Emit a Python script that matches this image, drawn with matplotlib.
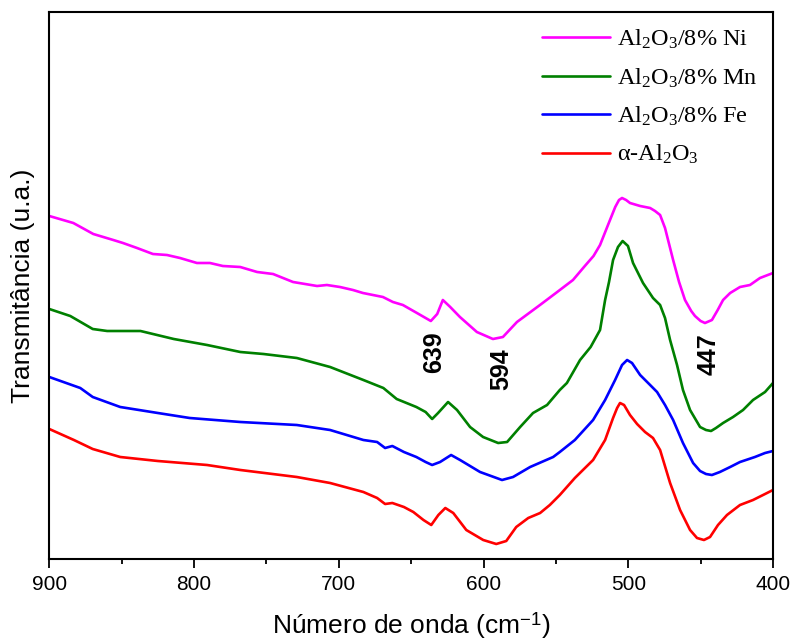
import matplotlib
matplotlib.use("Agg")
import matplotlib.pyplot as plt
from matplotlib.ticker import MultipleLocator

plt.rcParams["font.family"] = ["Liberation Sans", "DejaVu Sans"]
plt.rcParams["mathtext.fontset"] = "custom"
plt.rcParams["mathtext.rm"] = "Liberation Serif"
plt.rcParams["mathtext.it"] = "Liberation Serif:italic"
plt.rcParams["mathtext.sf"] = "Liberation Sans"

# wavenumber (cm-1) and transmittance (arbitrary units, curves offset)
ni_x = [900, 883.4, 869.6, 855.8, 849.1, 839.4, 828.4, 818.7, 809.7, 798, 789,
        780.1, 768.1, 756.4, 745.4, 731.6, 715, 708.2, 699.2, 690.2, 683.3,
        669.5, 662.6, 655.7, 646, 640, 636.4, 632, 628.1, 623, 616.3, 604.6,
        593.5, 586.6, 576.9, 561, 550, 538.2, 530, 524, 519.5, 514, 509, 506.4,
        504.3, 501.5, 498.8, 491.8, 484.9, 481.5, 478, 474.6, 469, 464.9, 460.8,
        456.5, 453.9, 450, 447, 442.2, 438.2, 434.5, 429.6, 422.8, 415.9, 409,
        400]
ni_y = [343, 336, 325, 319, 316, 311, 305, 304, 301, 296, 296,
        293, 292, 287, 285, 277, 273, 274, 272, 269, 266,
        262, 257, 254, 246, 241, 238, 245, 259, 252, 242, 227,
        220, 222, 237, 254, 266, 279, 293, 303, 314, 334, 352, 359,
        361, 359, 356, 353, 351, 348, 344, 331, 299, 277, 259,
        248, 243, 238, 236, 239, 249, 259, 266, 272, 274, 281,
        286]

mn_x = [900, 885.5, 870, 860, 837, 814, 791, 768, 752, 729, 706, 683, 669.2,
        660, 646.4, 640, 635.5, 631.4, 624.5, 618.3, 609.3, 600.3, 589.9,
        583.7, 574.7, 565.8, 556.1, 547.3, 542.4, 533.3, 526, 519.5, 516,
        513.3, 510.5, 507.1, 503.9, 500.2, 496.7, 489.8, 482.9, 478, 474.6,
        471.1, 466.3, 462.2, 457.3, 450.4, 446.3, 442.8, 439.4, 434.5, 427.6,
        420.7, 413.8, 405.5, 400]
mn_y = [250, 243, 230, 228, 228, 220, 214, 207, 205, 201, 192, 179, 171,
        160, 152, 147, 140, 146, 157, 149, 132, 122, 116,
        117, 132, 146, 154, 169, 176, 199, 212, 229, 259,
        277, 299, 312, 318, 313, 296, 276, 261, 254, 241,
        219, 194, 169, 149, 132, 129, 128, 131, 136, 142,
        149, 159, 167, 176]

fe_x = [900, 878.6, 870, 851, 825, 803, 768, 729, 706, 683, 673.5, 668, 663,
        655, 646.4, 640, 635.5, 630, 622.4, 616.2, 602.4, 587.2, 579.6, 567.8,
        551.9, 547.3, 536.9, 524.3, 516, 509.1, 504.3, 500.8, 497.4, 491.8,
        484.9, 480.1, 474.6, 469, 462.2, 455.2, 450.4, 446.3, 442.2, 436.7,
        429.6, 422.8, 412.5, 405.5, 400]
fe_y = [182, 171, 162, 152, 146, 141, 137, 134, 129, 119, 117, 111, 113,
        107, 102, 97, 94, 97, 104, 99, 87, 79, 82, 92,
        102, 107, 119, 139, 159, 179, 194, 199, 196, 184,
        174, 167, 154, 139, 116, 96, 88, 85, 84, 87,
        92, 97, 102, 106, 108]

al_x = [900, 883, 870, 851, 825, 791, 768, 729, 706, 683, 673.5, 668, 663,
        655, 648.5, 641.5, 636.1, 631.2, 626.4, 620.9, 611.9, 600.2, 591.2,
        584.3, 577.4, 569.1, 560.9, 554.2, 547.3, 536.9, 524.3, 516, 510.5,
        507.7, 505.7, 502.9, 498.8, 493.9, 488.4, 482.9, 478, 471.1, 464.2,
        457.3, 452.5, 447.7, 443.5, 438, 431.8, 422.8, 413.8, 405.5, 400]
al_y = [130, 119, 110, 102, 98, 94, 89, 82, 76, 67, 61, 55, 56,
        52, 47, 39, 34, 44, 51, 46, 29, 19, 15,
        18, 32, 41, 46, 54, 64, 81, 99, 119, 141,
        151, 156, 154, 144, 135, 127, 121, 109, 76, 49,
        29, 21, 19, 22, 34, 44, 54, 59, 65, 69]

series = [
    (ni_x, ni_y, "#ff00ff", r"Al$_2$O$_3$/8% Ni"),
    (mn_x, mn_y, "#008000", r"Al$_2$O$_3$/8% Mn"),
    (fe_x, fe_y, "#0000ff", r"Al$_2$O$_3$/8% Fe"),
    (al_x, al_y, "#ff0000", r"α-Al$_2$O$_3$"),
]

peak_labels = ["639", "594", "447"]
peak_x = [634.3, 588, 444.4]
peak_y = [207, 190, 205]

fig = plt.figure(figsize=(7.92, 6.44), dpi=100)
ax = fig.add_axes([49.3 / 792, 85 / 644, 723.7 / 792, 547 / 644])

for xs, ys, color, label in series:
    ax.plot(xs, ys, color=color, lw=1.9, label=label,
            solid_joinstyle="round", solid_capstyle="round")

for txt, px, py in zip(peak_labels, peak_x, peak_y):
    ax.text(px, py, txt, rotation=90, ha="center", va="center",
            fontsize=18, fontweight="bold")

ax.set_xlim(900, 400)
ax.set_ylim(0, 547)
ax.set_yticks([])
ax.xaxis.set_major_locator(MultipleLocator(100))
ax.xaxis.set_minor_locator(MultipleLocator(50))
ax.tick_params(axis="x", which="major", direction="out", length=6.5, width=1.3,
               labelsize=15, pad=5)
ax.tick_params(axis="x", which="minor", direction="out", length=3.6, width=1.3)
for sp in ax.spines.values():
    sp.set_linewidth(1.5)

ax.set_xlabel(r"Número de onda (cm$^{\mathsf{-1}}$)", fontsize=19, labelpad=12)
ax.set_ylabel("Transmitância (u.a.)", fontsize=19, labelpad=10)

ax.legend(loc="upper left", bbox_to_anchor=((542 - 49.3) / 723.7, 1 - 16 / 547),
          frameon=False, borderaxespad=0, borderpad=0, handlelength=2.8,
          handletextpad=0.3, labelspacing=0.62,
          prop={"family": "Liberation Serif", "size": 17.5})

fig.savefig("out.png", dpi=100)
